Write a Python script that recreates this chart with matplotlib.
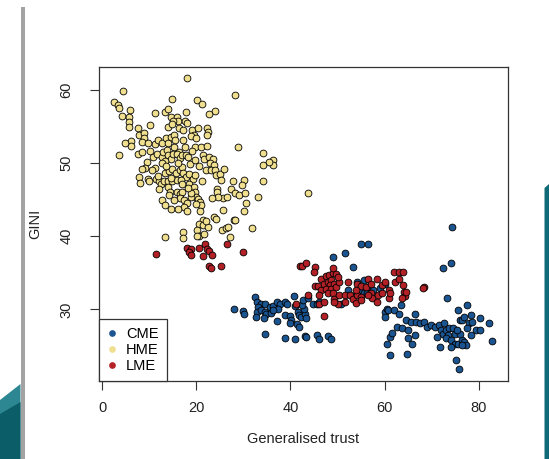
import matplotlib
matplotlib.use("Agg")
import matplotlib.pyplot as plt
from matplotlib.patches import Rectangle, Polygon
from matplotlib.lines import Line2D

plt.rcParams['font.family'] = ['Liberation Sans', 'DejaVu Sans']

# ---------------- data (Generalised trust, GINI) ----------------
hme_x = [18.1, 4.3, 28.2, 2.5, 3.3, 3.6, 14.7, 20.1, 21.1, 23.9, 22.7, 5.9, 4.2, 5.6, 5.7, 5.6,
         11.1, 13.3, 14.0, 14.6, 15.8, 16.0, 15.1, 17.7, 17.5, 18.0, 10.1, 7.5, 13.9, 14.9, 16.3,
         17.2, 19.1, 20.4, 22.2, 22.5, 19.5, 18.9, 20.0, 22.3, 7.7, 8.8, 8.9, 8.4, 6.1, 6.1, 4.8,
         3.5, 7.5, 8.5, 10.1, 11.1, 11.9, 12.6, 13.6, 14.0, 14.5, 15.2, 15.5, 15.2, 17.2, 17.5,
         16.3, 19.7, 21.0, 22.2, 28.9, 34.1, 36.3, 36.3, 35.4, 34.2, 34.2, 21.5, 21.7, 22.7, 23.6,
         22.9, 23.7, 10.8, 11.6, 12.6, 12.9, 13.8, 14.0, 14.6, 15.0, 15.9, 16.6, 16.9, 17.8, 18.3,
         19.1, 13.4, 12.6, 9.4, 9.0, 8.5, 11.1, 10.6, 7.8, 7.9, 9.6, 10.0, 11.4, 12.0, 12.5, 13.3,
         14.2, 14.8, 15.7, 16.4, 17.0, 17.1, 17.8, 18.5, 19.2, 19.7, 13.1, 13.9, 14.8, 15.9, 16.7,
         13.9, 14.3, 14.1, 15.9, 16.6, 17.0, 16.6, 17.4, 18.0, 17.4, 17.9, 18.4, 19.5, 19.6, 20.0,
         20.4, 20.8, 20.9, 21.2, 22.1, 23.0, 24.0, 24.1, 25.0, 25.8, 25.3, 20.0, 18.9, 18.9, 12.6,
         13.3, 14.6, 16.0, 24.4, 24.3, 25.6, 26.5, 24.5, 23.3, 27.8, 30.2, 29.6, 27.4, 28.2, 29.1,
         30.4, 30.6, 33.0, 30.2, 43.7, 20.7, 21.3, 20.6, 21.5, 22.4, 22.1, 23.8, 24.2, 25.7, 25.4,
         26.2, 26.7, 28.0, 28.3, 31.9, 13.3, 17.2, 17.2, 20.2, 20.6, 21.7, 20.1, 27.2,
         13.5, 16.0, 18.7, 11.8, 14.5, 16.9, 19.8, 15.3, 18.3, 12.1, 20.6, 9.8]
hme_y = [61.6, 59.9, 59.3, 58.4, 58.0, 57.6, 58.8, 58.6, 58.1, 57.2, 56.7, 57.3, 56.5, 56.3, 55.6, 54.9,
         56.8, 57.0, 57.4, 56.3, 56.3, 55.8, 55.8, 57.0, 55.8, 55.5, 55.2, 54.8, 55.0, 55.3, 54.8,
         54.6, 54.6, 54.8, 54.8, 54.3, 53.9, 53.7, 53.5, 53.9, 53.9, 54.1, 53.4, 52.9, 53.1, 52.4, 52.8,
         51.1, 51.3, 51.5, 51.6, 52.6, 53.2, 52.8, 53.4, 52.7, 53.6, 53.9, 53.2, 52.2, 53.2, 52.2,
         51.5, 52.2, 52.2, 52.4, 52.2, 51.4, 50.5, 49.7, 50.1, 49.7, 47.6, 51.1, 50.6, 50.9, 50.6,
         50.0, 49.8, 50.9, 51.3, 50.9, 51.5, 51.8, 51.1, 50.6, 51.2, 51.3, 50.7, 51.1, 51.1, 50.9,
         51.6, 50.3, 50.0, 50.2, 49.4, 49.2, 49.4, 49.0, 48.1, 47.3, 47.9, 47.5, 47.9, 47.5, 47.2, 48.6,
         48.9, 49.2, 48.6, 49.1, 49.5, 48.6, 48.1, 48.5, 47.8, 48.4, 47.5, 47.5, 47.6, 47.7, 47.7,
         46.8, 46.0, 45.6, 46.0, 45.8, 46.1, 45.2, 45.0, 44.5, 44.0, 43.4, 47.1, 46.8, 46.0, 45.4,
         45.1, 44.7, 44.3, 47.6, 49.0, 49.1, 49.0, 48.4, 48.5, 49.2, 47.7, 44.4, 45.4, 45.9, 45.0,
         44.3, 43.8, 43.8, 46.5, 46.0, 45.2, 45.4, 45.4, 45.3, 47.6, 47.7, 47.0, 46.4, 45.9, 45.6,
         45.9, 44.6, 45.4, 43.4, 45.9, 43.4, 42.2, 41.7, 41.5, 41.3, 42.1, 42.7, 42.3, 43.6, 40.9,
         41.2, 41.3, 42.2, 42.2, 41.2, 39.9, 40.6, 39.8, 40.9, 40.1, 40.3, 40.1, 39.9,
         49.6, 50.0, 49.9, 48.2, 48.0, 47.2, 50.5, 45.0, 46.6, 46.5, 49.6, 52.7]

lme_x = [11.4, 18.0, 18.9, 18.5, 18.9, 20.5, 21.8, 22.2, 22.6, 23.3, 21.3, 22.7, 23.1, 25.3, 26.5, 29.9,
         42.1, 42.4, 43.4, 45.2, 44.9, 43.8, 41.2, 46.1, 47.2, 45.2, 45.9, 46.4, 46.1,
         46.5, 47.5, 48.2, 49.0, 49.0, 49.7, 47.1, 47.9, 48.6, 48.4, 49.3, 47.5, 48.6, 49.7, 50.4, 50.1,
         47.9, 49.0, 47.1, 49.3, 50.1, 49.3, 50.4, 51.6, 52.7, 53.4, 54.2, 55.1,
         52.3, 54.2, 54.9, 53.9, 56.0, 56.4, 57.1, 53.9, 54.9, 57.1, 57.3, 58.4, 58.6, 59.4,
         58.5, 59.4, 60.0, 60.9, 61.0, 61.1, 62.0, 63.1, 64.0, 62.3, 63.1, 64.0, 64.2, 64.4, 63.8,
         68.3, 68.1, 64.6, 51.6, 56.4]
lme_y = [37.6, 38.4, 38.2, 37.8, 37.4, 38.4, 38.9, 38.3, 38.0, 37.4, 37.3, 36.0, 35.7, 36.0, 38.9, 37.8,
         36.0, 36.0, 36.4, 35.8, 35.1, 32.0, 30.8, 30.7, 29.1, 33.2, 33.2, 32.6, 31.9,
         34.1, 34.5, 34.7, 35.0, 35.7, 34.9, 33.5, 33.8, 34.0, 33.3, 33.5, 32.8, 32.8, 33.1, 33.8, 34.4,
         32.2, 32.2, 31.0, 31.4, 30.7, 31.0, 31.9, 31.9, 31.9, 31.4, 31.9, 31.7,
         33.8, 33.5, 33.2, 32.6, 33.1, 34.2, 33.5, 30.9, 31.3, 32.2, 31.5, 31.0, 31.9, 32.2,
         34.2, 33.4, 33.8, 32.6, 31.5, 32.2, 35.1, 35.1, 35.1, 33.8, 34.2, 33.4, 32.4, 31.8, 31.5,
         33.1, 32.9, 32.4, 31.0, 31.9]

cme_x = [27.9, 29.9, 30.2, 32.4, 32.8, 33.7, 33.2, 34.6, 35.6, 36.3, 37.1, 37.8, 37.4,
         32.8, 33.7, 34.5, 34.8, 35.9, 36.3, 32.6, 34.3, 37.1, 34.5, 38.9, 39.3, 40.8, 41.0,
         38.9, 40.0, 40.2, 39.8, 41.5, 41.9, 42.3, 43.0, 42.9, 42.4, 43.4, 41.4, 41.9,
         38.9, 41.0, 43.0, 43.4, 45.6, 46.1, 48.0, 48.6, 42.6, 43.8, 44.7, 45.6, 46.0,
         49.1, 51.6, 54.9, 56.5, 53.3, 50.8, 52.3, 53.0, 54.5, 55.6, 56.2, 56.4, 57.5, 59.0,
         55.6, 54.2, 60.1, 60.1, 60.5, 60.8, 62.0, 63.1, 63.4, 60.1,
         60.5, 61.2, 61.6, 61.1, 64.7, 62.7, 63.8, 64.6, 65.0, 65.7, 66.4, 66.8, 67.5, 68.3, 69.0,
         69.8, 70.7, 65.0, 65.9, 66.4, 71.6, 72.0, 72.4, 71.2, 71.8, 72.7, 73.1, 73.8, 73.5, 73.1,
         74.6, 75.0, 74.2, 75.0, 74.2, 75.7, 76.5, 76.1, 75.4, 75.7, 76.1, 76.5, 76.9, 77.6, 78.0,
         78.3, 78.7, 77.6, 78.3, 79.4, 80.3, 80.2, 82.2, 82.8, 76.9, 77.3, 76.5, 75.3, 75.8,
         73.3, 72.5, 74.2, 74.4]
cme_y = [30.0, 29.8, 29.3, 31.7, 31.0, 30.7, 30.3, 30.7, 30.3, 30.4, 31.0, 30.8, 30.1,
         29.7, 29.9, 29.7, 29.4, 29.5, 29.9, 28.9, 28.8, 28.4, 26.6, 31.0, 30.7, 31.8, 30.4,
         29.2, 29.1, 28.5, 28.1, 29.7, 29.2, 29.0, 29.3, 30.1, 30.6, 28.8, 28.0, 27.6,
         26.1, 25.9, 26.3, 26.2, 26.5, 25.9, 26.3, 26.0, 31.3, 31.5, 30.7, 30.7, 31.0,
         37.2, 37.7, 38.9, 38.9, 35.8, 30.8, 32.6, 31.8, 32.6, 32.2, 32.2, 33.1, 32.6, 32.9,
         34.0, 33.8, 33.5, 29.7, 30.1, 29.9, 29.9, 29.4, 30.6, 29.0,
         25.3, 26.2, 26.8, 23.7, 23.9, 27.6, 27.4, 28.5, 27.2, 28.3, 29.4, 28.3, 28.1, 28.3, 27.6,
         27.9, 27.6, 26.1, 25.3, 26.5, 27.9, 27.2, 26.7, 26.2, 24.9, 28.1, 27.2, 27.4, 26.5, 26.1,
         27.4, 26.7, 25.8, 25.3, 24.9, 25.3, 25.8, 26.7, 27.2, 29.9, 28.5, 28.6, 29.0, 30.6, 28.1,
         29.2, 28.3, 27.4, 26.5, 27.2, 28.8, 27.2, 28.2, 25.7, 25.6, 25.1, 25.1, 23.1, 21.8,
         31.6, 35.6, 36.3, 41.3]

group_names = ["CME", "HME", "LME"]
group_colors = ["#1b5591", "#f0df8f", "#b32025"]
x_ticks = [0, 20, 40, 60, 80]
y_ticks = [30, 40, 50, 60]

W, H = 549, 459
fig = plt.figure(figsize=(W / 100, H / 100), dpi=100)
fig.patch.set_facecolor("white")

# ---- slide decorations ----
def fx(px):
    return px / W

def fy(py):
    return 1 - py / H

fig.patches.append(Rectangle((fx(20.5), 0), fx(4.0), fy(7), transform=fig.transFigure,
                             facecolor="#a3a3a3", edgecolor="none", zorder=0))
fig.patches.append(Polygon([(0, fy(400)), (fx(20.5), fy(384)), (fx(20.5), 0), (0, 0)],
                           closed=True, transform=fig.transFigure, facecolor="#2c8793",
                           edgecolor="none", zorder=0))
fig.patches.append(Polygon([(0, fy(414)), (fx(20.5), fy(402)), (fx(20.5), 0), (0, 0)],
                           closed=True, transform=fig.transFigure, facecolor="#0b5d68",
                           edgecolor="none", zorder=0))
fig.patches.append(Polygon([(fx(544.5), fy(188)), (1, fy(184)), (1, 0), (fx(544.5), 0)],
                           closed=True, transform=fig.transFigure, facecolor="#0f6a77",
                           edgecolor="none", zorder=0))

ax = fig.add_axes([0.1805, 0.1699, 0.9248 - 0.1805, 0.8547 - 0.1699])
ax.set_xlim(-0.7, 86.2)
ax.set_ylim(20.2, 63.2)

ms = 24
ax.scatter(cme_x, cme_y, s=ms, c=group_colors[0], edgecolors="black", linewidths=0.6, zorder=3)
ax.scatter(lme_x, lme_y, s=ms, c=group_colors[2], edgecolors="black", linewidths=0.6, zorder=3)
ax.scatter(hme_x, hme_y, s=ms, c=group_colors[1], edgecolors="black", linewidths=0.6, zorder=3)

ax.set_xticks(x_ticks)
ax.set_yticks(y_ticks)
ax.set_yticklabels([str(v) for v in y_ticks], rotation=90, va="center")
ax.tick_params(axis="both", direction="out", length=6.5, width=0.8, color="#333333",
               labelsize=10.5, labelcolor="#222222")
ax.tick_params(axis="x", pad=8)
ax.tick_params(axis="y", pad=12)
for sp in ax.spines.values():
    sp.set_linewidth(0.9)
    sp.set_color("#333333")

ax.set_xlabel("Generalised trust", fontsize=10.5, color="#222222", labelpad=12)
ax.set_ylabel("GINI", fontsize=10.5, color="#222222", labelpad=12)

handles = [Line2D([], [], marker="o", linestyle="none", markersize=3.8,
                  markerfacecolor=c, markeredgecolor=c) for c in group_colors]
leg = ax.legend(handles, group_names, loc="lower left", borderaxespad=0, fontsize=10.5,
                frameon=True, fancybox=False, labelspacing=0.15, handlelength=0.7,
                handletextpad=0.6, borderpad=0.55, borderaxespad_=None) if False else \
      ax.legend(handles, group_names, loc="lower left", borderaxespad=0, fontsize=10.5,
                frameon=True, fancybox=False, labelspacing=0.15, handlelength=0.7,
                handletextpad=0.6, borderpad=0.55)
leg.get_frame().set_edgecolor("#333333")
leg.get_frame().set_linewidth(0.9)
leg.get_frame().set_alpha(1)
leg.set_zorder(5)

fig.savefig("out.png", dpi=100)
